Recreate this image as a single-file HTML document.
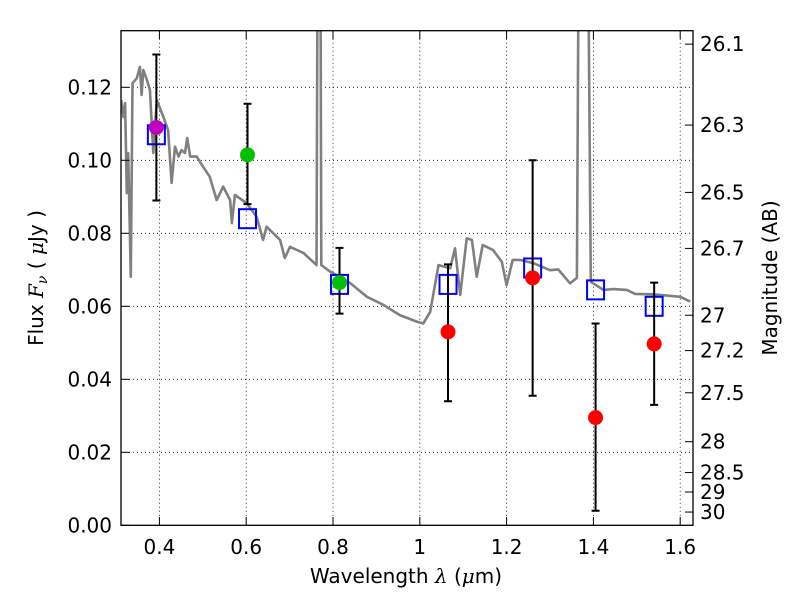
<!DOCTYPE html>
<html><head><meta charset="utf-8"><style>
body{margin:0;background:#fff;}
svg{display:block;font-family:"DejaVu Sans","Liberation Sans",sans-serif;}
</style></head><body>
<svg id="chart" width="800" height="600" viewBox="0 0 800 600" xmlns="http://www.w3.org/2000/svg">
<defs><clipPath id="pc"><rect x="121" y="30.7" width="572" height="494.6"/></clipPath></defs>
<rect width="800" height="600" fill="#fff"/>
<g id="grid"></g>
<g id="spec" clip-path="url(#pc)"></g>
<g id="marks"></g>
<rect x="121" y="30.7" width="572" height="494.6" fill="none" stroke="#000" stroke-width="1.3"/>
<g id="axes" font-size="20"></g>
<text x="406" y="583" font-size="20" text-anchor="middle">Wavelength  <tspan font-style="italic" font-family="DejaVu Serif, serif">λ</tspan> (<tspan font-style="italic" font-family="DejaVu Serif, serif">μ</tspan>m)</text>
<text transform="translate(43,278) rotate(-90)" font-size="20" text-anchor="middle">Flux  <tspan font-style="italic" font-family="DejaVu Serif, serif">F<tspan font-size="14" dy="4">ν</tspan></tspan><tspan dy="-4">  ( </tspan><tspan font-style="italic" font-family="DejaVu Serif, serif">μ</tspan>Jy )</text>
<text transform="translate(777,278) rotate(-90)" font-size="20" text-anchor="middle">Magnitude (AB)</text>
</svg>
<script>
const xTicks=[0.4,0.6,0.8,1,1.2,1.4,1.6];
const xTickLabels=["0.4","0.6","0.8","1","1.2","1.4","1.6"];
const yTicks=[0,0.02,0.04,0.06,0.08,0.10,0.12];
const yTickLabels=["0.00","0.02","0.04","0.06","0.08","0.10","0.12"];
const magTicks=[26.1,26.3,26.5,26.7,27,27.2,27.5,28,28.5,29,30];
const specWave=[0.312,0.317,0.321,0.325,0.328,0.334,0.338,0.348,0.355,0.359,0.363,0.371,0.378,0.386,0.394,0.409,0.420,0.428,0.436,0.444,0.451,0.459,0.464,0.471,0.486,0.501,0.516,0.532,0.547,0.563,0.567,0.574,0.601,0.624,0.639,0.647,0.678,0.689,0.701,0.732,0.762,0.766,0.770,0.773,0.793,0.801,0.839,0.878,0.916,0.954,0.993,1.008,1.024,1.043,1.070,1.081,1.093,1.108,1.120,1.131,1.145,1.169,1.189,1.200,1.214,1.231,1.262,1.300,1.319,1.346,1.362,1.368,1.385,1.394,1.423,1.446,1.477,1.496,1.538,1.600,1.623];
const specFlux=[0.1165,0.1119,0.1157,0.0910,0.1020,0.0681,0.1211,0.1225,0.1256,0.1179,0.1247,0.1221,0.1193,0.1020,0.1165,0.1119,0.1083,0.0938,0.1037,0.1010,0.1028,0.1020,0.1061,0.1010,0.1010,0.0982,0.0955,0.0891,0.0928,0.0891,0.0828,0.0905,0.0883,0.0845,0.0782,0.0818,0.0782,0.0732,0.0763,0.0746,0.0713,0.20,0.20,0.0713,0.0695,0.0690,0.0664,0.0626,0.0604,0.0576,0.0558,0.0553,0.0585,0.0713,0.0704,0.0759,0.0631,0.0786,0.0782,0.0681,0.0768,0.0754,0.0722,0.0658,0.0727,0.0727,0.0718,0.0699,0.0701,0.0663,0.0678,0.20,0.20,0.0667,0.0645,0.0647,0.0645,0.0634,0.0633,0.0626,0.0613];
const modelWave=[0.393,0.603,0.815,1.065,1.26,1.405,1.54];
const modelFlux=[0.107,0.084,0.066,0.066,0.0705,0.0645,0.060];
const obsWave=[0.393,0.603,0.815,1.065,1.26,1.405,1.54];
const obsFlux=[0.109,0.1015,0.0665,0.053,0.0678,0.0295,0.0497];
const obsLo=[0.089,0.088,0.058,0.034,0.0355,0.004,0.033];
const obsHi=[0.129,0.1155,0.076,0.0715,0.100,0.0553,0.0665];
const obsColor=["#bf00bf","#00c000","#00c000","#ff0000","#ff0000","#ff0000","#ff0000"];
const NS="http://www.w3.org/2000/svg";
const X=v=>419.8+434*(v-1);
const Y=f=>525.3-3650*f;
function mk(tag,attrs,parent){const e=document.createElementNS(NS,tag);for(const k in attrs)e.setAttribute(k,attrs[k]);parent.appendChild(e);return e;}
const grid=document.getElementById('grid'),axes=document.getElementById('axes'),spec=document.getElementById('spec'),marks=document.getElementById('marks');
xTicks.forEach((t,i)=>{const x=X(t);
 const g=mk('line',{x1:x,x2:x,y1:30.7,y2:525.3,stroke:'#000','stroke-width':0.8,'stroke-dasharray':'1,3'},grid);
 
 
 mk('line',{x1:x,x2:x,y1:525.3,y2:517,stroke:'#000'},axes);
 mk('line',{x1:x,x2:x,y1:30.7,y2:39,stroke:'#000'},axes);
 const tx=mk('text',{x:x,y:554,'text-anchor':'middle'},axes);tx.textContent=xTickLabels[i];
 
 });
yTicks.forEach((t,i)=>{const y=Y(t);
 if(t>0){const g=mk('line',{x1:121,x2:693,y1:y,y2:y,stroke:'#000','stroke-width':0.8,'stroke-dasharray':'1,3'},grid);
 
 }
 mk('line',{x1:121,x2:129,y1:y,y2:y,stroke:'#000'},axes);
 const tx=mk('text',{x:112,y:y+7,'text-anchor':'end'},axes);tx.textContent=yTickLabels[i];
 
 });
magTicks.forEach(m=>{const f=Math.pow(10,(23.9-m)/2.5);const y=Y(f);
 mk('line',{x1:693,x2:685,y1:y,y2:y,stroke:'#000'},axes);
 const tx=mk('text',{x:700,y:y+7,'text-anchor':'start'},axes);tx.textContent=String(m);
 
 });
const pts=specWave.map((w,i)=>X(w).toFixed(1)+','+Y(specFlux[i]).toFixed(1)).join(' ');
const pl=mk('polyline',{points:pts,fill:'none',stroke:'#808080','stroke-width':2.6,'stroke-linejoin':'round'},spec);


modelWave.forEach((w,i)=>{const r=mk('rect',{x:X(w)-8.5,y:Y(modelFlux[i])-9.5,width:17,height:19,fill:'none',stroke:'#0000ff','stroke-width':2},marks);
 
 });
obsWave.forEach((w,i)=>{const x=X(w),y1=Y(obsLo[i]),y2=Y(obsHi[i]);
 const e=mk('path',{d:`M${x},${y1}V${y2}M${x-4},${y1}H${x+4}M${x-4},${y2}H${x+4}`,stroke:'#000','stroke-width':2,fill:'none'},marks);
 
 });
obsWave.forEach((w,i)=>{const c=mk('circle',{cx:X(w),cy:Y(obsFlux[i]),r:7.5,fill:obsColor[i]},marks);
 
 });
</script>
</body></html>
